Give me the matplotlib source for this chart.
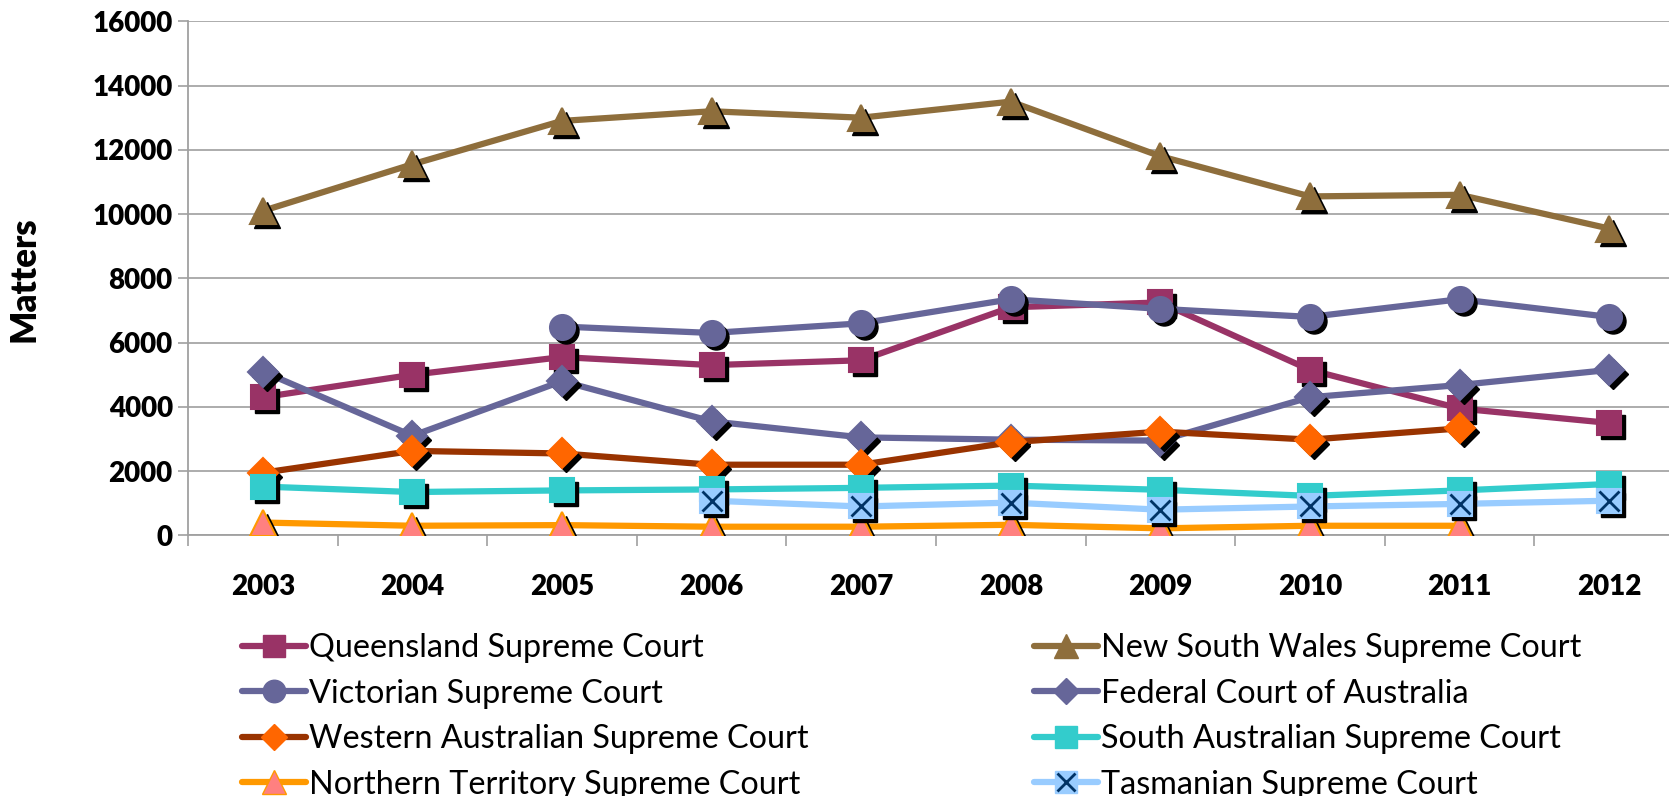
import numpy as np
import matplotlib
matplotlib.use("Agg")
import matplotlib.pyplot as plt
import matplotlib.transforms as mtransforms
from matplotlib.lines import Line2D

years = ['2003', '2004', '2005', '2006', '2007', '2008', '2009', '2010', '2011', '2012']
nan = np.nan

queensland = [4300, 5000, 5550, 5300, 5450, 7100, 7250, 5150, 3950, 3500]
nsw = [10100, 11550, 12900, 13200, 13000, 13500, 11800, 10550, 10600, 9550]
victorian = [nan, nan, 6500, 6300, 6600, 7350, 7050, 6800, 7350, 6800]
federal = [5100, 3100, 4800, 3550, 3050, 2980, 2950, 4300, 4680, 5150]
western = [1950, 2630, 2550, 2200, 2200, 2900, 3230, 2980, 3330, nan]
south = [1520, 1350, 1400, 1430, 1480, 1550, 1420, 1230, 1400, 1600]
northern = [400, 300, 320, 270, 270, 330, 220, 300, 300, nan]
tasmanian = [nan, nan, nan, 1080, 900, 1020, 800, 900, 980, 1080]

# name, values, line colour, marker, marker face, marker edge, size
series = [
    ('Queensland Supreme Court', queensland, '#993366', 's', '#993366', '#993366', 17),
    ('New South Wales Supreme Court', nsw, '#8E6E3C', '^', '#8E6E3C', '#8E6E3C', 19),
    ('Victorian Supreme Court', victorian, '#666699', 'o', '#666699', '#666699', 18),
    ('Federal Court of Australia', federal, '#666699', 'D', '#666699', '#666699', 15),
    ('Western Australian Supreme Court', western, '#993300', 'D', '#FF6600', '#FF6600', 15),
    ('South Australian Supreme Court', south, '#33CCCC', 's', '#33CCCC', '#33CCCC', 17),
    ('Northern Territory Supreme Court', northern, '#FF9900', '^', '#FF8080', '#FF9900', 19),
    ('Tasmanian Supreme Court', tasmanian, '#99CCFF', 's', '#99CCFF', '#99CCFF', 17),
]

plt.rcParams['font.family'] = ['Lato', 'DejaVu Sans']

W, H = 1669, 796
fig = plt.figure(figsize=(W / 100, H / 100), dpi=100)
ax = fig.add_axes([188 / W, 1 - 535.4 / H, 1496 / W, (535.4 - 21.3) / H])

x = np.arange(len(years))
shadow = mtransforms.offset_copy(ax.transData, fig=fig, x=4, y=-4, units='dots')

for i, (name, vals, lc, mk, mf, me, ms) in enumerate(series):
    z = 3 + i * 3
    ax.plot(x, vals, color=lc, lw=4.5, zorder=z, solid_capstyle='round')
    ax.plot(x, vals, ls='none', marker=mk, ms=ms, mfc='black', mec='black',
            transform=shadow, zorder=z + 1)
    ax.plot(x, vals, ls='none', marker=mk, ms=ms, mfc=mf, mec=me, mew=1.5, zorder=z + 2)
    if name.startswith('Tasmanian'):
        ax.plot(x, vals, ls='none', marker='x', ms=ms - 3, mec='#003366', mew=2, zorder=z + 2.5)

ax.set_xlim(-0.5, len(years) - 0.5)
ax.set_ylim(0, 16000)
ax.set_yticks(np.arange(0, 16001, 2000))
ax.set_xticks(x)
ax.set_xticklabels(years)
ax.set_xticks(np.arange(-0.5, len(years), 1), minor=True)
ax.tick_params(axis='x', which='major', length=0, pad=28, labelsize=20)
ax.tick_params(axis='x', which='minor', length=8, width=1.2, color='#A0A0A0', direction='out')
ax.tick_params(axis='y', length=7, width=1.2, color='#A0A0A0', pad=4, labelsize=20)
for lab in ax.get_xticklabels() + ax.get_yticklabels():
    lab.set_fontweight('heavy')

ax.grid(axis='y', color='#A6A6A6', lw=1.3)
ax.set_axisbelow(True)
for s in ['top', 'right']:
    ax.spines[s].set_visible(False)
for s in ['left', 'bottom']:
    ax.spines[s].set_color('#A0A0A0')
    ax.spines[s].set_linewidth(1.3)

fig.text(24 / W, 1 - 279 / H, 'Matters', rotation=90, ha='center', va='center',
         fontsize=25, fontweight='heavy')

def handle(name, lc, mk, mf, me, ms):
    h = Line2D([], [], color=lc, lw=4.5, marker=mk, ms=ms * 0.9, mfc=mf, mec=me,
               solid_capstyle='round')
    if name.startswith('Tasmanian'):
        cross = Line2D([], [], ls='none', marker='x', ms=ms * 0.8, mec='#003366', mew=2)
        return (h, cross)
    return h

left = [series[i] for i in (0, 2, 4, 6)]
right = [series[i] for i in (1, 3, 5, 7)]
for grp, x0 in ((left, 242), (right, 1034)):
    hs = [handle(s[0], s[2], s[3], s[4], s[5], s[6]) for s in grp]
    fig.legend(hs, [s[0] for s in grp], loc='upper left',
               bbox_to_anchor=(x0 / W, 1 - 633 / H), frameon=False,
               fontsize=23.3, handlelength=1.97, handletextpad=0.1,
               labelspacing=0.48, borderpad=0, borderaxespad=0)

fig.savefig('out.png', dpi=100)
